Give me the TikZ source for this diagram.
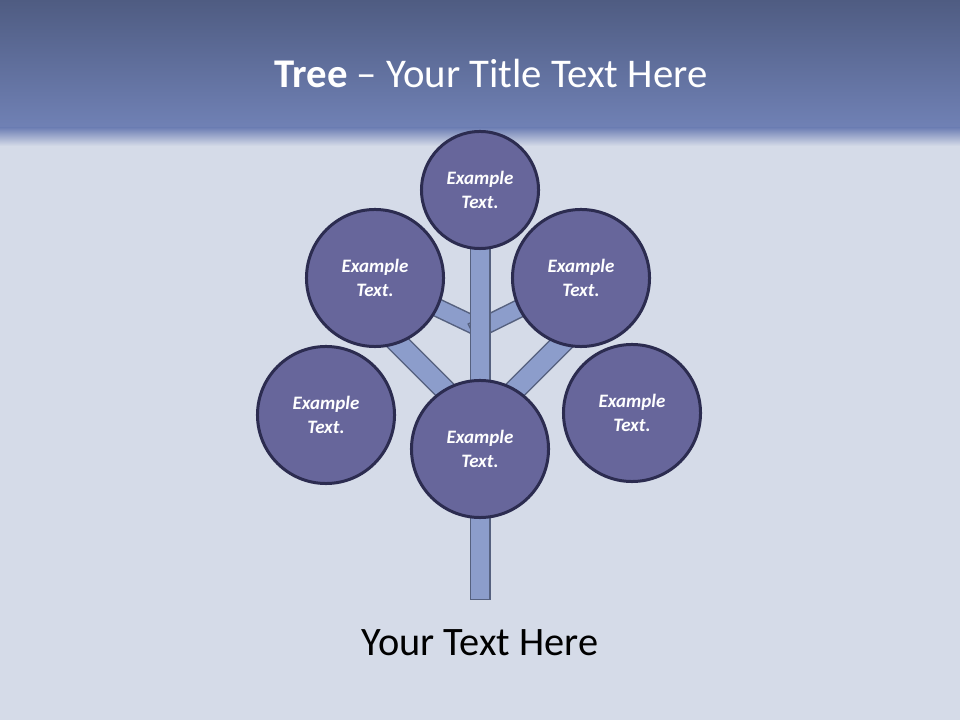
\documentclass[tikz,border=0pt]{standalone}
\usepackage{fontspec}
\setmainfont{Carlito}
\pgfdeclarelayer{back}
\pgfdeclarelayer{wood}
\pgfsetlayers{back,wood,main}
\definecolor{bandtop}{HTML}{4F5C82}
\definecolor{bandlow}{HTML}{7081B5}
\definecolor{cloth}{HTML}{D5DBE8}
\definecolor{leaffill}{HTML}{67669B}
\definecolor{leafrim}{HTML}{2C2C50}
\definecolor{bark}{HTML}{8C9DCB}
\definecolor{barkrim}{HTML}{56617F}
\tikzset{
  leaf/.style={circle, draw=leafrim, fill=leaffill, line width=0.075cm,
    inner sep=0pt, text=white, align=center,
    font=\bfseries\itshape\fontsize{13.5}{17}\selectfont},
  big/.style={minimum size=3.425cm},
  small/.style={minimum size=2.925cm},
  wood/.style={draw=barkrim, line width=0.0375cm, double=bark, line cap=rect},
  trunk/.style={wood, double distance=0.45cm},
  bough/.style={wood, double distance=0.48cm},
  twig/.style={wood, double distance=0.4cm}
}
\begin{document}
\begin{tikzpicture}[x=0.025cm, y=-0.025cm]
  \useasboundingbox (0,0) rectangle (960,720);
  % backdrop
  \begin{pgfonlayer}{back}
    \fill[top color=bandtop, bottom color=bandlow] (0,0) rectangle (960,128);
    \fill[top color=bandlow, bottom color=cloth] (0,128) rectangle (960,146);
    \fill[cloth] (0,146) rectangle (960,720);
  \end{pgfonlayer}
  % title and caption
  \node[anchor=base, text=white, font=\fontsize{29}{35}\selectfont] (head) at (491,88)
    {\textbf{Tree} -- Your Title Text Here};
  \node[anchor=base, font=\fontsize{28.7}{34}\selectfont] (caption) at (480,655)
    {Your Text Here};
  % leaves
  \node[leaf, small] (tc) at (480,190) {Example\\Text.};
  \node[leaf, big] (ul) at (375,278) {Example\\Text.};
  \node[leaf, big] (ur) at (581,278) {Example\\Text.};
  \node[leaf, big] (ll) at (326,415) {Example\\Text.};
  \node[leaf, big] (lr) at (632,413) {Example\\Text.};
  \node[leaf, big] (cb) at (480,449) {Example\\Text.};
  % trunk and branches
  \coordinate (base) at (480,589.5);
  \coordinate (knot) at (480,328);
  \coordinate (fork) at (480,425);
  \coordinate (ulend) at (380,325);
  \coordinate (urend) at (580,325);
  \begin{pgfonlayer}{wood}
    \draw[twig] (knot) -- (ul);
    \draw[twig] (knot) -- (ur);
    \draw[bough] (fork) -- (ulend);
    \draw[bough] (fork) -- (urend);
    \draw[trunk] (tc) -- (base);
  \end{pgfonlayer}
\end{tikzpicture}
\end{document}
